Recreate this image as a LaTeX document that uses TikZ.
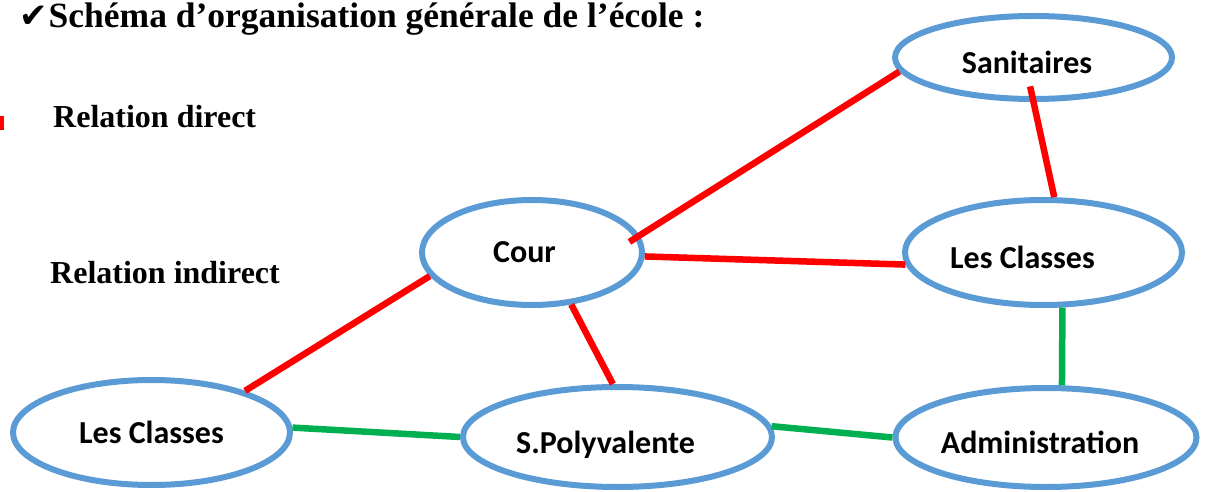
\documentclass[tikz,border=0pt]{standalone}
\usepackage{fontspec}
\setmainfont{Liberation Serif}
\newfontfamily\nodefont{Carlito}
\newfontfamily\checkfont{DejaVu Sans}
\usepackage{xcolor}
\usetikzlibrary{arrows.meta, positioning, shapes.geometric}
\definecolor{ovalblue}{RGB}{91,155,213}
\definecolor{indgreen}{RGB}{0,176,80}

\begin{document}
\begin{tikzpicture}[x=1pt,y=-1pt,
  lieu/.style={ellipse,draw=ovalblue,line width=6pt,inner sep=0pt,
    font=\nodefont\bfseries\fontsize{32}{36}\selectfont},
  bas/.style={text height=33pt,text depth=1pt},
  legende/.style={anchor=base west,inner sep=0pt,
    font=\bfseries\fontsize{32}{38}\selectfont},
  direct/.style={red,line width=6.5pt},
  indirect/.style={indgreen,line width=6.5pt}]
  \useasboundingbox (0,0) rectangle (1216,492);
  \node[legende,font=\bfseries\fontsize{35.5}{42}\selectfont] (titre) at (19,28)
    {{\checkfont\fontsize{34}{38}\selectfont ✔}\hspace{1pt}Schéma d’organisation générale de l’école :};
  \fill[red] (0,116) rectangle (4,130);
  \node[legende] (ldirect) at (53,128) {Relation direct};
  \node[legende] (lindirect) at (50,283) {Relation indirect};
  \node[lieu,bas,minimum width=277,minimum height=83] (sanit) at (1033.5,57.5) {Sanitaires\hspace*{13pt}};
  \node[lieu,minimum width=220,minimum height=105] (cour) at (532,252.5) {Cour\hspace*{15pt}};
  \node[lieu,bas,minimum width=277,minimum height=105] (classesR) at (1043.5,252.5) {Les Classes\hspace*{42pt}};
  \node[lieu,minimum width=277,minimum height=105] (classesL) at (151.5,432.5) {Les Classes};
  \node[lieu,bas,minimum width=309,minimum height=100] (spoly) at (617.5,437) {S.Polyvalente\hspace*{24pt}};
  \node[lieu,bas,minimum width=301,minimum height=99] (admin) at (1046,437.5) {Administration\hspace*{12pt}};
  \draw[direct,shorten <=-12pt] (cour.9) -- (sanit.186);
  \draw[direct] (cour.-2) -- (classesR.185);
  \draw[direct] (cour.193) -- (classesL.24);
  \draw[direct] (cour.-53) -- (spoly.95);
  \draw[direct,shorten <=-16pt] (sanit.-90) -- (classesR.79);
  \draw[indirect] (classesL.2) -- (spoly.180);
  \draw[indirect] (spoly.4) -- (admin.180);
  \draw[indirect] (classesR.-71) -- (admin.73);
\end{tikzpicture}
\end{document}
